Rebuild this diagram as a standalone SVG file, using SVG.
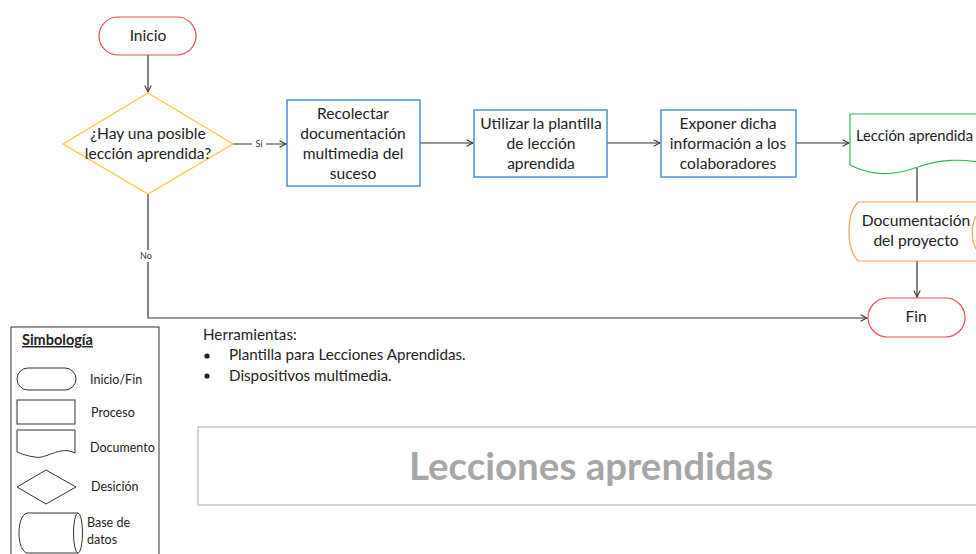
<svg xmlns="http://www.w3.org/2000/svg" width="976" height="554" viewBox="0 0 976 554">
<defs>
<marker id="arr" viewBox="0 0 10 10" refX="9" refY="5" markerWidth="8" markerHeight="8" markerUnits="userSpaceOnUse" orient="auto">
<path d="M1,1 L9,5 L1,9" fill="none" stroke="#333" stroke-width="1.3"/>
</marker>
<style>
text{font-family:Lato,"Liberation Sans",sans-serif;fill:#222;}
.t{font-size:15.6px;text-anchor:middle;}
.s{font-size:12.5px;}
.h{font-size:15.2px;}
.lbl{font-size:9px;text-anchor:middle;fill:#333;}
.c{fill:none;stroke:#333;stroke-width:1.2;}
.red{fill:#fff;stroke:#ee4a50;stroke-width:1.2;}
.yel{fill:#fff;stroke:#ffc533;stroke-width:1.2;}
.blu{fill:#fff;stroke:#4f8fcc;stroke-width:1.5;}
.grn{fill:#fff;stroke:#2fb85a;stroke-width:1.2;}
.org{fill:#fff;stroke:#f4a05a;stroke-width:1.2;}
.leg{fill:#fff;stroke:#333;stroke-width:1;}
</style>
</defs>
<rect width="976" height="554" fill="#fff"/>
<g id="connectors">
<path class="c" d="M148,55 V92" marker-end="url(#arr)"/>
<path class="c" d="M233,144 H286" marker-end="url(#arr)"/>
<path class="c" d="M420,143 H473" marker-end="url(#arr)"/>
<path class="c" d="M607,143 H660" marker-end="url(#arr)"/>
<path class="c" d="M796,143 H849" marker-end="url(#arr)"/>
<path class="c" d="M917,168 V202"/>
<path class="c" d="M917,261 V297" marker-end="url(#arr)"/>
<path class="c" d="M148,194 V318 H867" marker-end="url(#arr)"/>
<rect x="252" y="138" width="14" height="11" fill="#fff"/>
<text class="lbl" x="259" y="147">Sí</text>
<rect x="137" y="250" width="18" height="12" fill="#fff"/>
<text class="lbl" x="146" y="259">No</text>
</g>
<g id="inicio">
<rect class="red" x="99" y="17" width="97" height="38" rx="19"/>
<text class="t" x="148" y="41">Inicio</text>
</g>
<g id="decision">
<path class="yel" d="M148,93 L233,144 L148,194 L63,144 Z"/>
<text class="t" x="148" y="139">¿Hay una posible</text>
<text class="t" x="148" y="159">lección aprendida?</text>
</g>
<g id="recolectar">
<rect class="blu" x="287" y="100" width="133" height="86"/>
<text class="t" x="353" y="119">Recolectar</text>
<text class="t" x="353" y="139">documentación</text>
<text class="t" x="353" y="159">multimedia del</text>
<text class="t" x="353" y="179">suceso</text>
</g>
<g id="utilizar">
<rect class="blu" x="474" y="110" width="133" height="67"/>
<text class="t" x="541" y="129">Utilizar la plantilla</text>
<text class="t" x="541" y="149">de lección</text>
<text class="t" x="541" y="169">aprendida</text>
</g>
<g id="exponer">
<rect class="blu" x="661" y="110" width="135" height="67"/>
<text class="t" x="728" y="129">Exponer dicha</text>
<text class="t" x="728" y="149">información a los</text>
<text class="t" x="728" y="169">colaboradores</text>
</g>
<g id="leccion">
<path class="grn" d="M990,114 H850 V165 C872,176 892,176 915,168 C940,159 960,158 990,164"/>
<text x="856" y="141" style="font-size:15px" textLength="117" lengthAdjust="spacingAndGlyphs">Lección aprendida</text>
</g>
<g id="documentacion">
<path class="org" d="M990,202 H858 C846,215 846,248 858,261 H990"/>
<path class="org" d="M976,216 C971,226 971,239 976,249" style="fill:none"/>
<text class="t" x="916" y="226">Documentación</text>
<text class="t" x="916" y="246">del proyecto</text>
</g>
<g id="fin">
<rect class="red" x="868" y="298" width="97" height="39" rx="19.5"/>
<text class="t" x="916" y="322">Fin</text>
</g>
<g id="simbologia">
<rect x="11" y="327" width="148" height="240" fill="#fff" stroke="#333" stroke-width="1"/>
<text x="22" y="345" style="font-size:14.5px;font-weight:bold;text-decoration:underline">Simbología</text>
<rect class="leg" x="17" y="368" width="59" height="22" rx="11"/>
<text class="s" x="90" y="384">Inicio/Fin</text>
<rect class="leg" x="17" y="400" width="58" height="24"/>
<text class="s" x="91" y="417">Proceso</text>
<path class="leg" d="M17,430 H75 V453 C60,445 45,460 35,457 C27,456 22,454 17,452 Z"/>
<text class="s" x="90" y="452">Documento</text>
<path class="leg" d="M46,470 L76,487 L46,504 L17,487 Z"/>
<text class="s" x="91" y="491">Desición</text>
<path class="leg" d="M78,513 H28 C16,513 16,553 28,553 H78"/>
<ellipse class="leg" cx="78" cy="533" rx="4.5" ry="20"/>
<text class="s" x="87" y="527">Base de</text>
<text class="s" x="87" y="544">datos</text>
</g>
<g id="herramientas">
<text class="h" x="203" y="340">Herramientas:</text>
<circle cx="207" cy="356" r="2.6" fill="#222"/>
<text class="h" x="229" y="360">Plantilla para Lecciones Aprendidas.</text>
<circle cx="207" cy="376" r="2.6" fill="#222"/>
<text class="h" x="229" y="381">Dispositivos multimedia.</text>
</g>
<g id="titulo">
<rect x="198" y="427" width="800" height="78" fill="#fff" stroke="#c8c8c8" stroke-width="1.5"/>
<text x="591" y="480" style="font-size:38.5px;font-weight:bold;fill:#a6a6a6;text-anchor:middle">Lecciones aprendidas</text>
</g>
</svg>
